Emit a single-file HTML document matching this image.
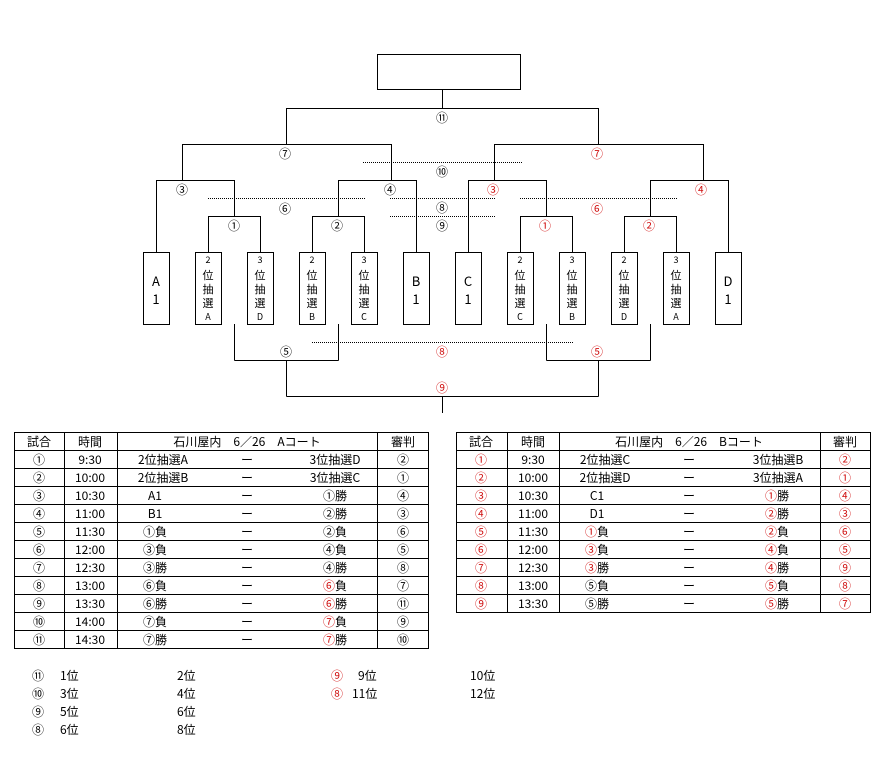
<!DOCTYPE html>
<html><head><meta charset="utf-8"><style>
html,body{margin:0;padding:0;background:#fff;}
svg{display:block;font-family:"Noto Sans CJK JP","Liberation Sans",sans-serif;}
.l{stroke:#000;stroke-width:1;fill:none;shape-rendering:crispEdges}
.d{stroke:#000;stroke-width:1;stroke-dasharray:1 1;fill:none;shape-rendering:crispEdges}
text{font-size:12px;fill:#000}
.r{fill:#d01010}
.c{text-anchor:middle}
</style></head><body>
<svg width="885" height="757" viewBox="0 0 885 757">
<rect class="l" x="377.5" y="54.5" width="143" height="35"/>
<path class="l" d="M442.5 90V108.5M286.5 108.5H598.5M286.5 108V144.5M598.5 108V144.5
M182.5 144.5H391.5M494.5 144.5H703.5
M182.5 144V180.5M391.5 144V180.5M494.5 144V180.5M703.5 144V180.5
M156.5 180.5H234.5M338.5 180.5H416.5M468.5 180.5H546.5M650.5 180.5H728.5
M156.5 180V252M234.5 180V216.5M338.5 180V216.5M416.5 180V252M468.5 180V252M546.5 180V216.5M650.5 180V216.5M728.5 180V252
M208.5 216.5H260.5M312.5 216.5H364.5M520.5 216.5H572.5M624.5 216.5H676.5
M208.5 216V252M260.5 216V252M312.5 216V252M364.5 216V252M520.5 216V252M572.5 216V252M624.5 216V252M676.5 216V252
M234.5 324V360.5M338.5 324V360.5M234.5 360.5H338.5M546.5 324V360.5M650.5 324V360.5M546.5 360.5H650.5
M286.5 360V396.5M598.5 360V396.5M286.5 396.5H598.5M442.5 396V413"/>
<path class="d" d="M363 162.5H522M208 198.5H365M390 198.5H495M520 198.5H677M390 216.5H495M312 342.5H573"/>
<g class="l">
<rect x="143.5" y="252.5" width="26" height="72"/><rect x="195.5" y="252.5" width="26" height="72"/><rect x="247.5" y="252.5" width="26" height="72"/><rect x="299.5" y="252.5" width="26" height="72"/><rect x="351.5" y="252.5" width="26" height="72"/><rect x="403.5" y="252.5" width="26" height="72"/>
<rect x="455.5" y="252.5" width="26" height="72"/><rect x="507.5" y="252.5" width="26" height="72"/><rect x="559.5" y="252.5" width="26" height="72"/><rect x="611.5" y="252.5" width="26" height="72"/><rect x="663.5" y="252.5" width="26" height="72"/><rect x="715.5" y="252.5" width="26" height="72"/>
</g>
<g class="c" style="font-size:13px">
<text x="156" y="286" style="font-size:13px">A</text><text x="156" y="304" style="font-size:13px">1</text>
<text x="416" y="286" style="font-size:13px">B</text><text x="416" y="304" style="font-size:13px">1</text>
<text x="468" y="286" style="font-size:13px">C</text><text x="468" y="304" style="font-size:13px">1</text>
<text x="728" y="286" style="font-size:13px">D</text><text x="728" y="304" style="font-size:13px">1</text>
</g>
<g class="c">
<g transform="translate(208,0)"><text y="263" style="font-size:9px">2</text><text y="279" style="font-size:11px">位</text><text y="293" style="font-size:11px">抽</text><text y="307" style="font-size:11px">選</text><text y="320" style="font-size:9px">A</text></g>
<g transform="translate(260,0)"><text y="263" style="font-size:9px">3</text><text y="279" style="font-size:11px">位</text><text y="293" style="font-size:11px">抽</text><text y="307" style="font-size:11px">選</text><text y="320" style="font-size:9px">D</text></g>
<g transform="translate(312,0)"><text y="263" style="font-size:9px">2</text><text y="279" style="font-size:11px">位</text><text y="293" style="font-size:11px">抽</text><text y="307" style="font-size:11px">選</text><text y="320" style="font-size:9px">B</text></g>
<g transform="translate(364,0)"><text y="263" style="font-size:9px">3</text><text y="279" style="font-size:11px">位</text><text y="293" style="font-size:11px">抽</text><text y="307" style="font-size:11px">選</text><text y="320" style="font-size:9px">C</text></g>
<g transform="translate(520,0)"><text y="263" style="font-size:9px">2</text><text y="279" style="font-size:11px">位</text><text y="293" style="font-size:11px">抽</text><text y="307" style="font-size:11px">選</text><text y="320" style="font-size:9px">C</text></g>
<g transform="translate(572,0)"><text y="263" style="font-size:9px">3</text><text y="279" style="font-size:11px">位</text><text y="293" style="font-size:11px">抽</text><text y="307" style="font-size:11px">選</text><text y="320" style="font-size:9px">B</text></g>
<g transform="translate(624,0)"><text y="263" style="font-size:9px">2</text><text y="279" style="font-size:11px">位</text><text y="293" style="font-size:11px">抽</text><text y="307" style="font-size:11px">選</text><text y="320" style="font-size:9px">D</text></g>
<g transform="translate(676,0)"><text y="263" style="font-size:9px">3</text><text y="279" style="font-size:11px">位</text><text y="293" style="font-size:11px">抽</text><text y="307" style="font-size:11px">選</text><text y="320" style="font-size:9px">A</text></g>
</g>
<g class="c">
<text x="442" y="122">⑪</text>
<text x="285" y="158">⑦</text><text class="r" x="597" y="158">⑦</text>
<text x="442" y="176">⑩</text>
<text x="182" y="194">③</text><text x="390" y="194">④</text><text class="r" x="493" y="194">③</text><text class="r" x="701" y="194">④</text>
<text x="285" y="213">⑥</text><text x="442" y="212">⑧</text><text class="r" x="597" y="213">⑥</text>
<text x="234" y="230">①</text><text x="337" y="230">②</text><text x="442" y="230">⑨</text><text class="r" x="545" y="230">①</text><text class="r" x="649" y="230">②</text>
<text x="286" y="356">⑤</text><text class="r" x="442" y="356">⑧</text><text class="r" x="597" y="356">⑤</text>
<text class="r" x="442" y="392">⑨</text>
</g>
<g class="l">
<rect x="14.5" y="432.5" width="414" height="216"/>
<path d="M64.5 432V648M117.5 432V648M377.5 432V648
M14 450.5H429M14 468.5H429M14 486.5H429M14 504.5H429M14 522.5H429M14 540.5H429M14 558.5H429M14 576.5H429M14 594.5H429M14 612.5H429M14 630.5H429"/>
</g>
<g class="c">
<text x="39" y="446">試合</text><text x="90" y="446">時間</text><text x="247" y="446">石川屋内　6／26　Aコート</text><text x="403" y="446">審判</text>
<text x="39" y="464">①</text><text x="90" y="464">9:30</text><text x="163" y="464">2位抽選A</text><text x="247" y="464">ー</text><text x="335" y="464">3位抽選D</text><text x="403" y="464">②</text>
<text x="39" y="482">②</text><text x="90" y="482">10:00</text><text x="163" y="482">2位抽選B</text><text x="247" y="482">ー</text><text x="335" y="482">3位抽選C</text><text x="403" y="482">①</text>
<text x="39" y="500">③</text><text x="90" y="500">10:30</text><text x="155" y="500">A1</text><text x="247" y="500">ー</text><text x="335" y="500">①勝</text><text x="403" y="500">④</text>
<text x="39" y="518">④</text><text x="90" y="518">11:00</text><text x="155" y="518">B1</text><text x="247" y="518">ー</text><text x="335" y="518">②勝</text><text x="403" y="518">③</text>
<text x="39" y="536">⑤</text><text x="90" y="536">11:30</text><text x="155" y="536">①負</text><text x="247" y="536">ー</text><text x="335" y="536">②負</text><text x="403" y="536">⑥</text>
<text x="39" y="554">⑥</text><text x="90" y="554">12:00</text><text x="155" y="554">③負</text><text x="247" y="554">ー</text><text x="335" y="554">④負</text><text x="403" y="554">⑤</text>
<text x="39" y="572">⑦</text><text x="90" y="572">12:30</text><text x="155" y="572">③勝</text><text x="247" y="572">ー</text><text x="335" y="572">④勝</text><text x="403" y="572">⑧</text>
<text x="39" y="590">⑧</text><text x="90" y="590">13:00</text><text x="155" y="590">⑥負</text><text x="247" y="590">ー</text><text x="335" y="590"><tspan class="r">⑥</tspan>負</text><text x="403" y="590">⑦</text>
<text x="39" y="608">⑨</text><text x="90" y="608">13:30</text><text x="155" y="608">⑥勝</text><text x="247" y="608">ー</text><text x="335" y="608"><tspan class="r">⑥</tspan>勝</text><text x="403" y="608">⑪</text>
<text x="39" y="626">⑩</text><text x="90" y="626">14:00</text><text x="155" y="626">⑦負</text><text x="247" y="626">ー</text><text x="335" y="626"><tspan class="r">⑦</tspan>負</text><text x="403" y="626">⑨</text>
<text x="39" y="644">⑪</text><text x="90" y="644">14:30</text><text x="155" y="644">⑦勝</text><text x="247" y="644">ー</text><text x="335" y="644"><tspan class="r">⑦</tspan>勝</text><text x="403" y="644">⑩</text>
</g>
<g class="l">
<rect x="456.5" y="432.5" width="414" height="180"/>
<path d="M507.5 432V612M559.5 432V612M820.5 432V612
M456 450.5H871M456 468.5H871M456 486.5H871M456 504.5H871M456 522.5H871M456 540.5H871M456 558.5H871M456 576.5H871M456 594.5H871"/>
</g>
<g class="c">
<text x="481" y="446">試合</text><text x="533" y="446">時間</text><text x="689" y="446">石川屋内　6／26　Bコート</text><text x="845" y="446">審判</text>
<text class="r" x="481" y="464">①</text><text x="533" y="464">9:30</text><text x="605" y="464">2位抽選C</text><text x="689" y="464">ー</text><text x="778" y="464">3位抽選B</text><text class="r" x="845" y="464">②</text>
<text class="r" x="481" y="482">②</text><text x="533" y="482">10:00</text><text x="605" y="482">2位抽選D</text><text x="689" y="482">ー</text><text x="778" y="482">3位抽選A</text><text class="r" x="845" y="482">①</text>
<text class="r" x="481" y="500">③</text><text x="533" y="500">10:30</text><text x="597" y="500">C1</text><text x="689" y="500">ー</text><text x="777" y="500"><tspan class="r">①</tspan>勝</text><text class="r" x="845" y="500">④</text>
<text class="r" x="481" y="518">④</text><text x="533" y="518">11:00</text><text x="597" y="518">D1</text><text x="689" y="518">ー</text><text x="777" y="518"><tspan class="r">②</tspan>勝</text><text class="r" x="845" y="518">③</text>
<text class="r" x="481" y="536">⑤</text><text x="533" y="536">11:30</text><text x="597" y="536"><tspan class="r">①</tspan>負</text><text x="689" y="536">ー</text><text x="777" y="536"><tspan class="r">②</tspan>負</text><text class="r" x="845" y="536">⑥</text>
<text class="r" x="481" y="554">⑥</text><text x="533" y="554">12:00</text><text x="597" y="554"><tspan class="r">③</tspan>負</text><text x="689" y="554">ー</text><text x="777" y="554"><tspan class="r">④</tspan>負</text><text class="r" x="845" y="554">⑤</text>
<text class="r" x="481" y="572">⑦</text><text x="533" y="572">12:30</text><text x="597" y="572"><tspan class="r">③</tspan>勝</text><text x="689" y="572">ー</text><text x="777" y="572"><tspan class="r">④</tspan>勝</text><text class="r" x="845" y="572">⑨</text>
<text class="r" x="481" y="590">⑧</text><text x="533" y="590">13:00</text><text x="597" y="590">⑤負</text><text x="689" y="590">ー</text><text x="777" y="590"><tspan class="r">⑤</tspan>負</text><text class="r" x="845" y="590">⑧</text>
<text class="r" x="481" y="608">⑨</text><text x="533" y="608">13:30</text><text x="597" y="608">⑤勝</text><text x="689" y="608">ー</text><text x="777" y="608"><tspan class="r">⑤</tspan>勝</text><text class="r" x="845" y="608">⑦</text>
</g>
<g>
<text x="32" y="680">⑪</text><text x="60" y="680">1位</text><text x="177" y="680">2位</text>
<text class="r" x="331" y="680">⑨</text><text x="358" y="680">9位</text><text x="470" y="680">10位</text>
<text x="32" y="698">⑩</text><text x="60" y="698">3位</text><text x="177" y="698">4位</text>
<text class="r" x="331" y="698">⑧</text><text x="352" y="698">11位</text><text x="470" y="698">12位</text>
<text x="32" y="716">⑨</text><text x="60" y="716">5位</text><text x="177" y="716">6位</text>
<text x="32" y="734">⑧</text><text x="60" y="734">6位</text><text x="177" y="734">8位</text>
</g>
</svg>
</body></html>
